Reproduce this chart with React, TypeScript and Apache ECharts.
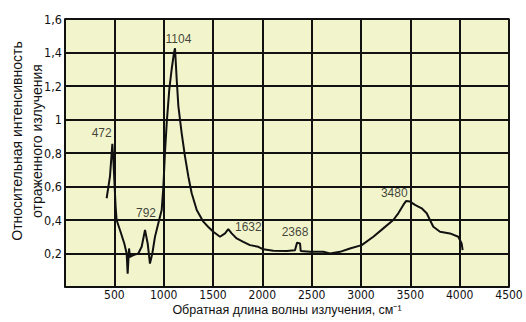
import React, { useEffect, useRef } from "react";
import * as echarts from "echarts";

const wavenumbers = [
  422, 456, 473, 480, 490, 513, 523, 557, 601, 625, 635, 649, 659, 693, 743, 777, 811, 838, 861, 885,
  912, 946, 980, 997, 1013, 1031, 1057, 1081, 1105, 1115, 1132, 1149, 1182, 1216, 1250, 1284, 1335,
  1402, 1450, 1503, 1571, 1622, 1655, 1689, 1740, 1807, 1875, 1959, 2010, 2111, 2247, 2331, 2352,
  2382, 2389, 2483, 2618, 2686, 2787, 2888, 3007, 3125, 3226, 3327, 3378, 3429, 3456, 3497, 3547,
  3615, 3666, 3699, 3733, 3801, 3902, 3986, 4020, 4030,
];
const intensity = [
  0.53, 0.66, 0.8, 0.855, 0.76, 0.48, 0.4, 0.34, 0.26, 0.2, 0.08, 0.23, 0.18, 0.19, 0.2, 0.24, 0.34,
  0.26, 0.14, 0.2, 0.3, 0.38, 0.46, 0.6, 0.8, 0.98, 1.18, 1.3, 1.4, 1.425, 1.24, 1.08, 0.92, 0.78,
  0.66, 0.56, 0.46, 0.39, 0.36, 0.33, 0.3, 0.32, 0.345, 0.32, 0.29, 0.27, 0.25, 0.24, 0.225, 0.217,
  0.215, 0.22, 0.265, 0.26, 0.215, 0.21, 0.21, 0.2, 0.21, 0.23, 0.25, 0.3, 0.35, 0.4, 0.44, 0.49,
  0.513, 0.51, 0.49, 0.47, 0.44, 0.4, 0.36, 0.33, 0.32, 0.3, 0.26, 0.22,
];

const peakLabels = ["472", "1104", "792", "1632", "2368", "3480"];
const peakLabelX = [372, 1150, 821, 1858, 2331, 3337];
const peakLabelY = [0.918, 1.48, 0.444, 0.36, 0.33, 0.563];

const FONT = "Liberation Sans, Arial, sans-serif";
const NARROW = "Liberation Sans Narrow, DejaVu Sans Condensed, Liberation Sans, sans-serif";

export default function App() {
  const ref = useRef<HTMLDivElement>(null);
  useEffect(() => {
    if (!ref.current) return;
    const chart = echarts.init(ref.current, undefined, { renderer: "svg" });
    const lineData = wavenumbers.map((x, i) => [x, intensity[i]]);
    const labelData = peakLabels.map((name, i) => ({ name, value: [peakLabelX[i], peakLabelY[i]] }));
    chart.setOption({
      animation: false,
      backgroundColor: "#ffffff",
      textStyle: { fontFamily: FONT },
      grid: {
        left: 65,
        right: 17,
        top: 19,
        bottom: 35,
        containLabel: false,
        outerBoundsMode: "none",
        show: true,
        backgroundColor: "#f2f5cc",
        borderColor: "#222",
        borderWidth: 1.5,
      },
      xAxis: {
        type: "value",
        min: 0,
        max: 4500,
        interval: 500,
        name: "Обратная длина волны излучения, см⁻¹",
        nameLocation: "middle",
        nameGap: 16,
        nameMoveOverlap: false,
        nameTextStyle: { fontSize: 12.5, lineHeight: 13, color: "#111", fontFamily: FONT },
        axisLine: { show: true, lineStyle: { color: "#111", width: 1.5 } },
        axisTick: { show: false },
        axisLabel: {
          fontSize: 12,
          lineHeight: 12,
          color: "#111",
          margin: 2,
          fontFamily: NARROW,
          formatter: (v: number) => (v === 0 ? "" : String(v)),
        },
        splitLine: { show: true, lineStyle: { color: "#111", width: 2 } },
      },
      yAxis: {
        type: "value",
        min: 0,
        max: 1.6,
        interval: 0.2,
        name: "Относительная интенсивность\nотраженного излучения",
        nameLocation: "middle",
        nameGap: 18,
        nameMoveOverlap: false,
        nameTextStyle: {
          fontSize: 14,
          color: "#111",
          lineHeight: 20,
          fontFamily: FONT,
          padding: [0, 0, 0, 24],
        },
        axisLine: { show: true, lineStyle: { color: "#111", width: 1.5 } },
        axisTick: { show: false },
        axisLabel: {
          fontSize: 12.5,
          color: "#111",
          margin: 3,
          fontFamily: NARROW,
          formatter: (v: number) =>
            v === 0 ? "" : String(Math.round(v * 10) / 10).replace(".", ","),
        },
        splitLine: { show: true, lineStyle: { color: "#111", width: 2 } },
      },
      series: [
        {
          type: "line",
          data: lineData,
          showSymbol: false,
          symbol: "none",
          lineStyle: { color: "#111", width: 2 },
          z: 3,
        },
        {
          type: "scatter",
          data: labelData,
          symbolSize: 0,
          itemStyle: { color: "transparent" },
          z: 4,
          label: {
            show: true,
            position: "inside",
            formatter: "{b}",
            fontSize: 12,
            color: "#111",
            textBorderWidth: 0,
            textBorderColor: "transparent",
            fontFamily: FONT,
          },
        },
      ],
    });
    return () => chart.dispose();
  }, []);
  return (
    <div
      ref={ref}
      style={{ position: "fixed", left: 0, top: 0, width: 526, height: 322 }}
    />
  );
}
